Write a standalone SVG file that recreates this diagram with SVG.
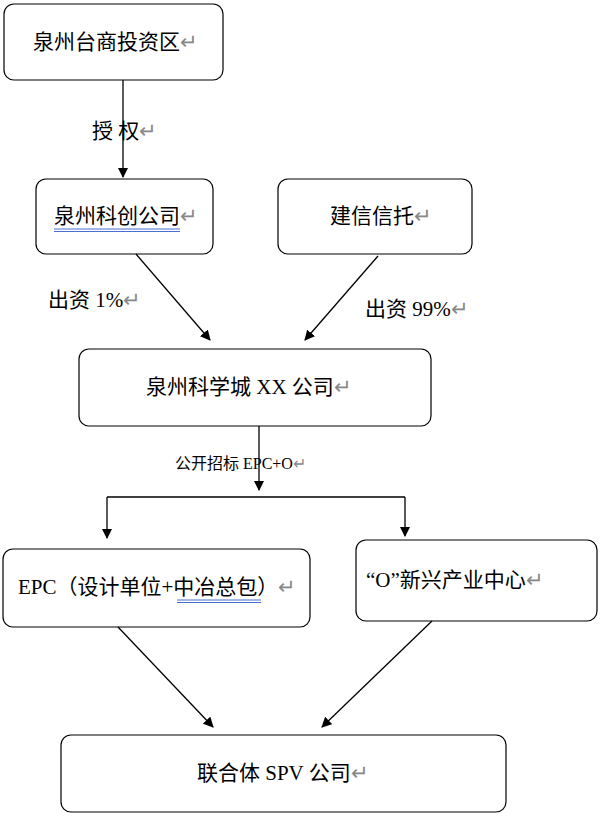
<svg xmlns="http://www.w3.org/2000/svg" width="601" height="818" viewBox="0 0 601 818">
<style>
.b{fill:#fff;stroke:#000;stroke-width:1.2}
.t{font-family:"Liberation Serif","Noto Sans CJK SC",serif;font-size:21px;fill:#000}
.s{font-size:16px}
.r{fill:#888}
.c{stroke:#000;stroke-width:1.3;fill:none}
.u{stroke:#4a6fd0;stroke-width:1;fill:none}
</style>
<defs><marker id="a" viewBox="0 0 10 10" refX="9" refY="5" markerWidth="8" markerHeight="8" orient="auto"><path d="M0,0L10,5L0,10z" fill="#000"/></marker></defs>
<rect width="601" height="818" fill="#fff"/>
<g id="n1"><rect class="b" x="4" y="4" width="219" height="76" rx="10"/><text class="t" x="33" y="49">泉州台商投资区<tspan class="r">↵</tspan></text></g>
<g id="n2"><rect class="b" x="36" y="179" width="177" height="75" rx="10"/><text class="t" x="54" y="223">泉州科创公司<tspan class="r">↵</tspan></text><path class="u" d="M54,229H180M54,231.5H180"/></g>
<g id="n3"><rect class="b" x="278" y="179" width="194" height="75" rx="10"/><text class="t" x="330" y="223">建信信托<tspan class="r">↵</tspan></text></g>
<g id="n4"><rect class="b" x="79" y="349" width="352" height="77" rx="10"/><text class="t" x="146" y="394">泉州科学城 XX 公司<tspan class="r">↵</tspan></text></g>
<g id="n5"><rect class="b" x="3" y="549" width="307" height="78" rx="10"/><text class="t" x="18" y="594">EPC（设计单位+中冶总包）<tspan class="r">↵</tspan></text><path class="u" d="M177,600H261M177,602.5H261"/></g>
<g id="n6"><rect class="b" x="356" y="540" width="241" height="81" rx="10"/><text class="t" x="366" y="587">“O”新兴产业中心<tspan class="r">↵</tspan></text></g>
<g id="n7"><rect class="b" x="61" y="735" width="445" height="77" rx="10"/><text class="t" x="197" y="780">联合体 SPV 公司<tspan class="r">↵</tspan></text></g>
<g id="connectors">
<path class="c" d="M123,80V177" marker-end="url(#a)"/>
<path class="c" d="M136,254L210,340" marker-end="url(#a)"/>
<path class="c" d="M378,256L305,340" marker-end="url(#a)"/>
<path class="c" d="M259,426V490" marker-end="url(#a)"/>
<path class="c" d="M107,497H405"/>
<path class="c" d="M107,497V538" marker-end="url(#a)"/>
<path class="c" d="M405,497V536" marker-end="url(#a)"/>
<path class="c" d="M118,627L213,727" marker-end="url(#a)"/>
<path class="c" d="M432,621L322,727" marker-end="url(#a)"/>
<text class="t" x="92" y="138">授  权<tspan class="r">↵</tspan></text>
<text class="t" x="48" y="307">出资 1%<tspan class="r">↵</tspan></text>
<text class="t" x="365" y="316">出资 99%<tspan class="r">↵</tspan></text>
<text class="t s" x="175" y="469">公开招标  EPC+O<tspan class="r">↵</tspan></text>
</g>
</svg>
